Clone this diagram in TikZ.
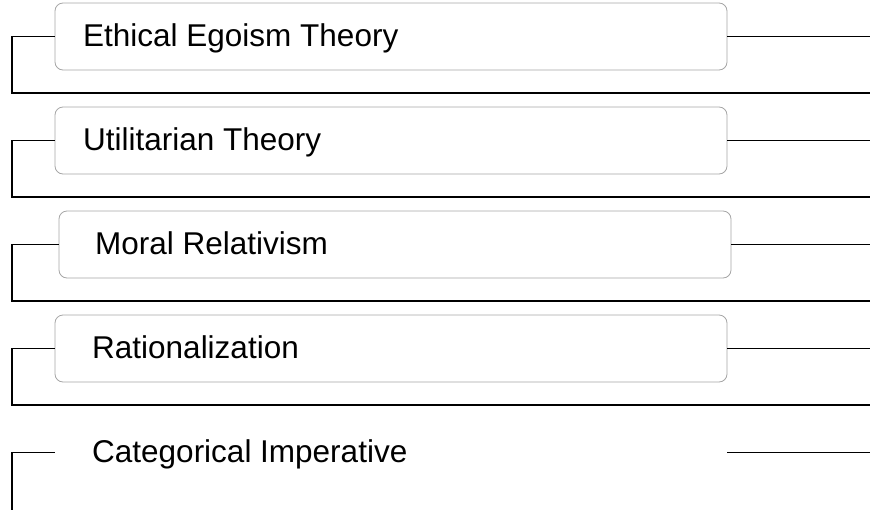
\documentclass[tikz,border=0pt]{standalone}
\usepackage{fontspec}
\setmainfont{Liberation Sans}
\begin{document}
\begin{tikzpicture}[x=1pt,y=-1pt,
  itembox/.style={draw=black!35,line width=0.8pt,rounded corners=8pt,minimum width=672pt,minimum height=67pt,inner sep=0pt,fill=white},
  hiddenbox/.style={draw=none,minimum width=672pt,minimum height=67pt,inner sep=0pt},
  itemtext/.style={anchor=base west,inner sep=0pt,font=\fontsize{31.5}{36}\selectfont},
  link/.style={draw=black,line width=1.9pt}]
\useasboundingbox (0,0) rectangle (870,509);
% boxes
\node[itembox] (b1) at (391,36.5) {};
\node[itembox] (b2) at (391,140.5) {};
\node[itembox] (b3) at (395,244.5) {};
\node[itembox] (b4) at (391,348.5) {};
\node[hiddenbox] (b5) at (391,452.5) {};
% texts
\node[itemtext] (t1) at (83,46) {Ethical Egoism Theory};
\node[itemtext] (t2) at (83,150) {Utilitarian Theory};
\node[itemtext] (t3) at (95,254) {Moral Relativism};
\node[itemtext] (t4) at (92,358) {Rationalization};
\node[itemtext] (t5) at (92,462) {Categorical Imperative};
% coordinates
\coordinate (l1) at (12,36.5); \coordinate (e1) at (871,93);  \coordinate (r1) at (871,36.5);
\coordinate (l2) at (12,140.5); \coordinate (e2) at (871,197); \coordinate (r2) at (871,140.5);
\coordinate (l3) at (12,244.5); \coordinate (e3) at (871,301); \coordinate (r3) at (871,244.5);
\coordinate (l4) at (12,348.5); \coordinate (e4) at (871,405); \coordinate (r4) at (871,348.5);
\coordinate (l5) at (12,452.5); \coordinate (e5) at (12,512);  \coordinate (r5) at (871,452.5);
% connectors
\draw[link] (b1.west) -- (l1) |- (e1);
\draw[link] (b1.east) -- (r1);
\draw[link] (b2.west) -- (l2) |- (e2);
\draw[link] (b2.east) -- (r2);
\draw[link] (b3.west) -- (l3) |- (e3);
\draw[link] (b3.east) -- (r3);
\draw[link] (b4.west) -- (l4) |- (e4);
\draw[link] (b4.east) -- (r4);
\draw[link] (b5.west) -- (l5) -- (e5);
\draw[link] (b5.east) -- (r5);
\end{tikzpicture}
\end{document}
